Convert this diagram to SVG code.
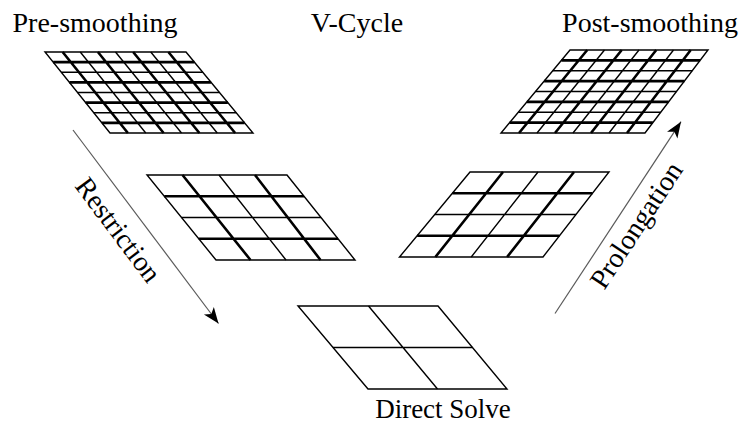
<svg xmlns="http://www.w3.org/2000/svg" width="743" height="425" viewBox="0 0 743 425">
<style>
  .bg{fill:#fff}
  .grid path{fill:none;stroke:#000;stroke-linejoin:miter}
  .grid .thin{stroke-width:1.4}
  .grid .thick{stroke-width:2.6}
  .arrow{fill:none;stroke:#5a5a5a;stroke-width:1.2}
  .lbl{font-family:"Liberation Serif","DejaVu Serif",serif;font-size:28px;fill:#000;text-anchor:middle}
</style>
<defs>
  <marker id="head" markerUnits="userSpaceOnUse" markerWidth="18" markerHeight="14" refX="17" refY="7" orient="auto" viewBox="0 0 18 14">
    <path d="M17 7L1 0.8L5 7L1 13.2Z" fill="#000"/>
  </marker>
</defs>
<rect class="bg" x="0" y="0" width="743" height="425"/>

<g id="labels">
  <text class="lbl" x="95" y="32">Pre-smoothing</text>
  <text class="lbl" x="357" y="32">V-Cycle</text>
  <text class="lbl" x="650" y="32">Post-smoothing</text>
  <text class="lbl" x="443" y="418" style="font-size:27px">Direct Solve</text>
</g>

<g id="grid-fine-left" class="grid">
  <path class="thin" d="M45 52L186 52L253 133L110 133Z"/>
  <path class="thin" d="M61.25 72.25H202.75M77.5 92.5H219.5M93.75 112.75H236.25M80.25 52L145.75 133M115.5 52L181.5 133M150.75 52L217.25 133"/>
  <path class="thick" d="M53.13 62.13H194.38M69.38 82.38H211.13M85.63 102.63H227.88M101.88 122.88H244.63M62.63 52L127.88 133M97.88 52L163.63 133M133.13 52L199.38 133M168.38 52L235.13 133"/>
</g>

<g id="grid-medium-left" class="grid">
  <path class="thin" d="M147 175L287 175L355 260L216 260Z"/>
  <path class="thin" d="M181.5 217.5H321M219 175L286 260"/>
  <path class="thick" d="M164.25 196.25H304M198.75 238.75H338M182.5 175L250.5 260M255 175L320.5 260"/>
</g>

<g id="grid-coarse" class="grid">
  <path class="thin" d="M298 306L438 306L507 389L368 389Z"/>
  <path class="thin" d="M333 347.5H472.5M368.5 306L437.5 389"/>
</g>

<g id="grid-medium-right" class="grid">
  <path class="thin" d="M470 172L609 172L543 257L399.5 257Z"/>
  <path class="thin" d="M434.75 214.5H576M538 172L471.25 257"/>
  <path class="thick" d="M452.38 193.25H592.5M417.13 235.75H559.5M503 172L435.4 257M574 172L507.1 257"/>
</g>

<g id="grid-fine-right" class="grid">
  <path class="thin" d="M570 50L708 50L645 133L501 133Z"/>
  <path class="thin" d="M552.75 70.75H692.25M535.5 91.5H676.5M518.25 112.25H660.75M604.5 50L537 133M639 50L573 133M673.5 50L609 133"/>
  <path class="thick" d="M561.38 60.38H700.13M544.13 81.13H684.38M526.88 101.88H668.63M509.63 122.63H652.88M587.25 50L519 133M621.75 50L555 133M656.25 50L591 133M690.75 50L627 133"/>
</g>

<g id="connectors">
  <path class="arrow" d="M73 130L218.5 323.5" marker-end="url(#head)"/>
  <path class="arrow" d="M555 313.5L681 121.7" marker-end="url(#head)"/>
  <text class="lbl" transform="translate(118 230) rotate(53.1)" x="0" y="9">Restriction</text>
  <text class="lbl" transform="translate(639 227) rotate(-56.6)" x="0" y="6">Prolongation</text>
</g>
</svg>
